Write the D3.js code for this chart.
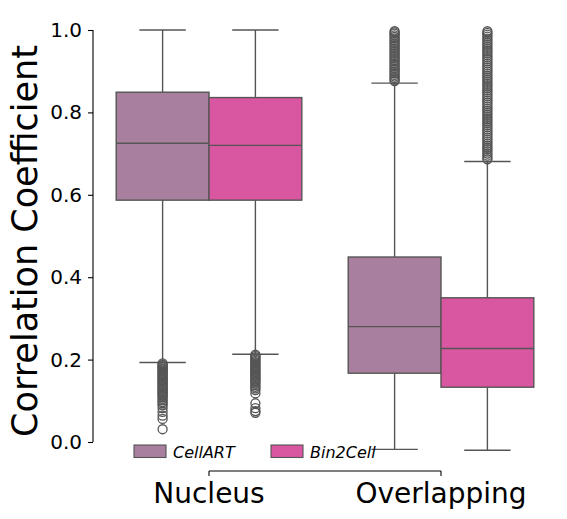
<html>
  <head>
    <meta charset="utf-8">
    <script src="https://d3js.org/d3.v7.min.js"></script>
    <style>
      body { margin: 0; background: #fff; }
      text { font-family: "DejaVu Sans", sans-serif; fill: #000; }
    </style>
  </head>
  <body>
    <svg width="567" height="519" class="chart"></svg>

    <script>
      var categories = ["Nucleus", "Overlapping"];
      var methods = ["CellART", "Bin2Cell"];
      var colors = ["#a87f9e", "#d957a0"];
      var yTicks = [0.0, 0.2, 0.4, 0.6, 0.8, 1.0];

      // box stats per method, one value per category
      var cellartLow = [0.193, -0.018];
      var cellartQ1 = [0.587, 0.167];
      var cellartMed = [0.725, 0.280];
      var cellartQ3 = [0.849, 0.449];
      var cellartHigh = [1.0, 0.871];

      var bin2cellLow = [0.213, -0.020];
      var bin2cellQ1 = [0.587, 0.133];
      var bin2cellMed = [0.720, 0.227];
      var bin2cellQ3 = [0.836, 0.350];
      var bin2cellHigh = [1.0, 0.681];

      // fliers (dense columns listed point by point)
      var cellartNucOut = [0.191, 0.188, 0.186, 0.183, 0.181, 0.178, 0.176, 0.173, 0.171, 0.168,
        0.165, 0.163, 0.160, 0.158, 0.155, 0.152, 0.150, 0.147, 0.144, 0.141, 0.139, 0.136,
        0.133, 0.130, 0.127, 0.124, 0.121, 0.118, 0.115, 0.112, 0.109, 0.105, 0.101, 0.097,
        0.093, 0.089, 0.082, 0.073, 0.064, 0.056, 0.031];
      var cellartOvOut = [0.876, 0.879, 0.883, 0.887, 0.891, 0.895, 0.899, 0.903, 0.907, 0.911,
        0.915, 0.919, 0.923, 0.927, 0.931, 0.935, 0.939, 0.943, 0.947, 0.951, 0.955, 0.959,
        0.963, 0.967, 0.971, 0.975, 0.979, 0.983, 0.987, 0.991, 0.994, 0.997];
      var bin2cellNucOut = [0.212, 0.209, 0.206, 0.203, 0.200, 0.197, 0.194, 0.191, 0.188, 0.185,
        0.182, 0.179, 0.176, 0.173, 0.170, 0.167, 0.164, 0.161, 0.158, 0.155, 0.152, 0.149,
        0.146, 0.142, 0.138, 0.134, 0.130, 0.126, 0.118, 0.094, 0.082, 0.075, 0.071];
      var bin2cellOvOut = [0.686, 0.690, 0.695, 0.700, 0.705, 0.710, 0.714, 0.719, 0.724, 0.729,
        0.734, 0.739, 0.744, 0.749, 0.754, 0.759, 0.764, 0.769, 0.774, 0.779, 0.784, 0.789,
        0.794, 0.799, 0.804, 0.809, 0.814, 0.819, 0.824, 0.829, 0.834, 0.839, 0.844, 0.849,
        0.854, 0.859, 0.864, 0.869, 0.874, 0.879, 0.884, 0.889, 0.894, 0.899, 0.904, 0.909,
        0.914, 0.919, 0.924, 0.929, 0.934, 0.939, 0.944, 0.949, 0.954, 0.959, 0.964, 0.969,
        0.974, 0.979, 0.984, 0.989, 0.993, 0.997];

      var series = [
        { low: cellartLow, q1: cellartQ1, med: cellartMed, q3: cellartQ3, high: cellartHigh,
          out: [cellartNucOut, cellartOvOut] },
        { low: bin2cellLow, q1: bin2cellQ1, med: bin2cellMed, q3: bin2cellQ3, high: bin2cellHigh,
          out: [bin2cellNucOut, bin2cellOvOut] }
      ];

      var svg = d3.select(".chart");
      var lineCol = "#555555";

      var x = d3.scaleBand().domain(categories).range([93, 557]).padding(0);
      var bw = x.bandwidth();
      var xHue = d3.scaleBand().domain(methods).range([bw * 0.1, bw * 0.9]).padding(0);
      var y = d3.scaleLinear().domain([0, 1]).range([442, 30]);

      // y axis
      var yAxis = svg.append("g")
        .attr("transform", "translate(93,0)")
        .call(d3.axisLeft(y).tickValues(yTicks).tickFormat(d3.format(".1f")).tickSize(5).tickPadding(6));
      yAxis.select(".domain").attr("d", "M0," + y(0) + "V" + y(1)).attr("stroke", "#000").attr("stroke-width", 1.1);
      yAxis.selectAll(".tick line").attr("stroke", "#000").attr("stroke-width", 1.1);
      yAxis.selectAll(".tick text").style("font-size", "20px").attr("fill", "#000");

      // x axis, spine trimmed to the outer categories and dropped below
      var xAxis = svg.append("g")
        .attr("transform", "translate(0,471)")
        .call(d3.axisBottom(x).tickSize(5).tickPadding(7));
      var c0 = x(categories[0]) + bw / 2, c1 = x(categories[1]) + bw / 2;
      xAxis.select(".domain").attr("d", "M" + c0 + ",0H" + c1).attr("stroke", "#000").attr("stroke-width", 1.1);
      xAxis.selectAll(".tick line").attr("stroke", "#000").attr("stroke-width", 1.1);
      xAxis.selectAll(".tick text").style("font-size", "28px").attr("fill", "#000");

      svg.append("text")
        .attr("transform", "translate(37,241) rotate(-90)")
        .attr("text-anchor", "middle")
        .style("font-size", "35px")
        .text("Correlation Coefficient");

      var plot = svg.append("g");

      series.forEach(function(s, si) {
        categories.forEach(function(cat, ci) {
          var left = x(cat) + xHue(methods[si]);
          var w = xHue.bandwidth();
          var cx = left + w / 2;
          var g = plot.append("g");

          // whiskers
          g.append("line").attr("x1", cx).attr("x2", cx)
            .attr("y1", y(s.q3[ci])).attr("y2", y(s.high[ci]))
            .attr("stroke", lineCol).attr("stroke-width", 1.4);
          g.append("line").attr("x1", cx).attr("x2", cx)
            .attr("y1", y(s.q1[ci])).attr("y2", y(s.low[ci]))
            .attr("stroke", lineCol).attr("stroke-width", 1.4);
          [s.high[ci], s.low[ci]].forEach(function(v) {
            g.append("line").attr("x1", cx - w / 4).attr("x2", cx + w / 4)
              .attr("y1", y(v)).attr("y2", y(v))
              .attr("stroke", lineCol).attr("stroke-width", 1.4);
          });

          g.append("rect")
            .attr("x", left).attr("width", w)
            .attr("y", y(s.q3[ci])).attr("height", y(s.q1[ci]) - y(s.q3[ci]))
            .attr("fill", colors[si]).attr("stroke", lineCol).attr("stroke-width", 1.4);
          g.append("line").attr("x1", left).attr("x2", left + w)
            .attr("y1", y(s.med[ci])).attr("y2", y(s.med[ci]))
            .attr("stroke", lineCol).attr("stroke-width", 1.4);

          g.selectAll("circle.flier").data(s.out[ci]).enter().append("circle")
            .attr("class", "flier")
            .attr("cx", cx).attr("cy", function(d) { return y(d); })
            .attr("r", 4.5)
            .attr("fill", "none").attr("stroke", lineCol).attr("stroke-width", 1.3);
        });
      });

      // legend
      var legendX = [134, 271];
      var legend = svg.append("g");
      methods.forEach(function(m, i) {
        legend.append("rect")
          .attr("x", legendX[i]).attr("y", 445).attr("width", 32).attr("height", 12.5)
          .attr("fill", colors[i]).attr("stroke", lineCol).attr("stroke-width", 1.1);
        legend.append("text")
          .attr("x", legendX[i] + 39).attr("y", 457.5)
          .style("font-size", "16px").style("font-style", "italic")
          .text(m);
      });
    </script>
  </body>
</html>
